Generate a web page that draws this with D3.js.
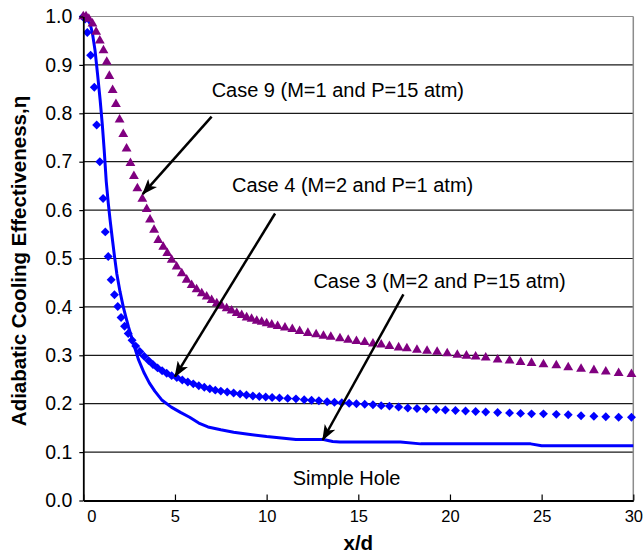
<!DOCTYPE html>
<html>
<head>
<meta charset="utf-8">
<script src="https://cdn.jsdelivr.net/npm/d3@7"></script>
<style>
  body { margin: 0; background: #fff; }
  svg { font-family: "Liberation Sans", Arial, sans-serif; }
</style>
</head>
<body>
<svg id="chart" width="643" height="556"></svg>
<script>
// Case 9 (M=1, P=15 atm) - purple triangles
var case9 = [
  [0, 1.0], [0.15, 1.0], [0.3, 0.995], [0.5, 0.985], [0.7, 0.968], [0.9, 0.95],
  [1.1, 0.93], [1.28, 0.906], [1.42, 0.877], [1.6, 0.848], [1.78, 0.819],
  [1.98, 0.787], [2.18, 0.757], [2.36, 0.727], [2.57, 0.697], [2.76, 0.67],
  [2.95, 0.645], [3.22, 0.623], [3.46, 0.602], [3.64, 0.58], [3.86, 0.559],
  [4.09, 0.538], [4.36, 0.524], [4.58, 0.511], [4.82, 0.497], [5.09, 0.483],
  [5.37, 0.469], [5.64, 0.456], [5.91, 0.445], [6.18, 0.436], [6.46, 0.428],
  [6.73, 0.421], [7.0, 0.414], [7.28, 0.407], [7.55, 0.402], [7.82, 0.397],
  [8.09, 0.392], [8.37, 0.387], [8.64, 0.383], [8.91, 0.378], [9.18, 0.375],
  [9.46, 0.371], [9.73, 0.369], [10.0, 0.366], [10.28, 0.363], [10.6, 0.36],
  [11.0, 0.357], [11.4, 0.354], [11.8, 0.35], [12.25, 0.346], [12.7, 0.343],
  [13.1, 0.34], [13.5, 0.338], [14.0, 0.335], [14.45, 0.332], [14.9, 0.329],
  [15.35, 0.327], [15.8, 0.324], [16.25, 0.322], [16.7, 0.319], [17.2, 0.316],
  [17.65, 0.314], [18.2, 0.311], [18.75, 0.309], [19.3, 0.307], [19.85, 0.304],
  [20.4, 0.301], [20.9, 0.299], [21.4, 0.297], [21.95, 0.295], [22.6, 0.291],
  [23.25, 0.289], [23.85, 0.286], [24.45, 0.284], [25.1, 0.281], [25.8, 0.279],
  [26.45, 0.275], [27.15, 0.272], [27.85, 0.269], [28.5, 0.266], [29.2, 0.263],
  [29.9, 0.261]
];

// Case 4 (M=2, P=1 atm) - blue diamonds
var case4 = [
  [0, 1.0], [0.1, 0.995], [0.22, 0.967], [0.4, 0.92], [0.6, 0.854], [0.73, 0.776],
  [0.9, 0.7], [1.08, 0.624], [1.2, 0.555], [1.36, 0.504], [1.52, 0.456],
  [1.7, 0.425], [1.88, 0.401], [2.06, 0.378], [2.25, 0.36], [2.45, 0.345],
  [2.66, 0.331], [2.86, 0.319], [3.08, 0.308], [3.32, 0.298], [3.56, 0.289],
  [3.8, 0.281], [4.05, 0.274], [4.3, 0.268], [4.55, 0.263], [4.82, 0.258],
  [5.1, 0.254], [5.4, 0.249], [5.7, 0.245], [6.0, 0.241], [6.3, 0.237],
  [6.6, 0.234], [6.9, 0.231], [7.2, 0.228], [7.5, 0.226], [7.85, 0.224],
  [8.2, 0.222], [8.55, 0.22], [8.9, 0.218], [9.25, 0.216], [9.6, 0.215],
  [9.95, 0.214], [10.3, 0.213], [10.7, 0.212], [11.15, 0.211], [11.6, 0.21],
  [12.05, 0.208], [12.45, 0.207], [12.85, 0.206], [13.3, 0.204], [13.7, 0.203],
  [14.1, 0.202], [14.5, 0.201], [14.9, 0.2], [15.35, 0.199], [15.8, 0.198],
  [16.25, 0.196], [16.7, 0.195], [17.2, 0.193], [17.7, 0.191], [18.2, 0.19],
  [18.7, 0.189], [19.25, 0.188], [19.75, 0.187], [20.3, 0.186], [20.85, 0.185],
  [21.4, 0.184], [21.95, 0.183], [22.6, 0.182], [23.25, 0.181], [23.85, 0.18],
  [24.45, 0.179], [25.1, 0.179], [25.8, 0.178], [26.45, 0.177], [27.15, 0.175],
  [27.85, 0.174], [28.5, 0.173], [29.2, 0.172], [29.9, 0.172]
];

// Case 3 (M=2, P=15 atm) - solid blue line
var case3 = [
  [0, 1.0], [0.2, 0.995], [0.37, 0.985], [0.5, 0.965], [0.64, 0.93], [0.78, 0.88],
  [0.92, 0.827], [1.04, 0.775], [1.14, 0.724], [1.25, 0.66], [1.36, 0.615],
  [1.46, 0.58], [1.57, 0.545], [1.7, 0.505], [1.83, 0.468], [2.0, 0.432],
  [2.18, 0.4], [2.33, 0.378], [2.47, 0.358], [2.73, 0.325], [3.0, 0.292],
  [3.3, 0.265], [3.6, 0.243], [3.9, 0.226], [4.3, 0.207], [4.8, 0.193],
  [5.3, 0.182], [5.8, 0.172], [6.3, 0.16], [6.8, 0.152], [7.5, 0.146],
  [8.2, 0.141], [9.0, 0.137], [10.0, 0.132], [10.8, 0.129], [11.6, 0.126],
  [13.1, 0.126], [13.6, 0.122], [14.0, 0.121], [17.3, 0.121], [18.4, 0.117],
  [24.4, 0.117], [25.0, 0.113], [30, 0.113]
];

var xTicks = [0, 5, 10, 15, 20, 25, 30];
var yTicks = [0, 0.1, 0.2, 0.3, 0.4, 0.5, 0.6, 0.7, 0.8, 0.9, 1.0];

// annotation text, anchored in data units: [label, x, y]
var notes = [
  ['Case 9 (M=1 and P=15 atm)', 7.0, 0.834],
  ['Case 4 (M=2 and P=1 atm)', 8.11, 0.637],
  ['Case 3 (M=2 and P=15 atm)', 12.55, 0.44],
  ['Simple Hole', 11.42, 0.031]
];

// arrows: [fromX, fromY, toX, toY] in data units
var arrows = [
  [7.0, 0.793, 3.24, 0.633],
  [10.46, 0.593, 5.0, 0.256],
  [17.46, 0.426, 13.06, 0.125]
];


var svg = d3.select('#chart');

var x = d3.scaleLinear().domain([0, 30]).range([83.3, 633.3]);
var y = d3.scaleLinear().domain([0, 1]).range([500.5, 16.5]);

// horizontal gridlines
svg.append('g').selectAll('line').data(yTicks.slice(1))
  .enter().append('line')
  .attr('x1', x(0)).attr('x2', x(30))
  .attr('y1', function(d) { return y(d); })
  .attr('y2', function(d) { return y(d); })
  .attr('stroke', function(d) { return d === 1.0 ? '#8c8c8c' : '#1a1a1a'; })
  .attr('stroke-width', 1.2);

// right border of the plot
svg.append('line')
  .attr('x1', x(30)).attr('x2', x(30))
  .attr('y1', y(1)).attr('y2', y(0))
  .attr('stroke', '#8c8c8c').attr('stroke-width', 1.5);

// simple hole line
svg.append('path').datum(case3)
  .attr('fill', 'none')
  .attr('stroke', '#0000ff')
  .attr('stroke-width', 3)
  .attr('stroke-linejoin', 'round')
  .attr('d', d3.line()
    .x(function(d) { return x(d[0]); })
    .y(function(d) { return y(d[1]); }));

// diamonds
var diamond = d3.symbol().type(d3.symbolSquare).size(40);
svg.append('g').selectAll('path').data(case4)
  .enter().append('path')
  .attr('d', diamond)
  .attr('fill', '#0000ff')
  .attr('transform', function(d) {
    return 'translate(' + x(d[0]) + ',' + y(d[1]) + ') rotate(45)';
  });

// triangles
var triangle = d3.symbol().type(d3.symbolTriangle).size(42);
svg.append('g').selectAll('path').data(case9)
  .enter().append('path')
  .attr('d', triangle)
  .attr('fill', '#800080')
  .attr('transform', function(d) {
    return 'translate(' + x(d[0]) + ',' + y(d[1]) + ')';
  });

// axes
var yAxis = svg.append('g')
  .attr('transform', 'translate(' + x(0) + ',0)')
  .call(d3.axisLeft(y).tickValues(yTicks).tickFormat(d3.format('.1f'))
    .tickSize(4).tickSizeOuter(0).tickPadding(7));
yAxis.select('.domain').attr('stroke', '#000').attr('stroke-width', 1.8);
yAxis.selectAll('.tick line').attr('stroke', '#000').attr('stroke-width', 1.2);
yAxis.selectAll('text')
  .attr('font-size', '19.5px')
  .attr('font-family', '"Liberation Sans", Arial, sans-serif')
  .attr('fill', '#000');

var xAxis = svg.append('g')
  .attr('transform', 'translate(0,' + y(0) + ')')
  .call(d3.axisBottom(x).tickValues(xTicks).tickFormat(d3.format('d'))
    .tickSizeInner(-6).tickSizeOuter(0).tickPadding(10));
xAxis.select('.domain').attr('stroke', '#000').attr('stroke-width', 2);
xAxis.selectAll('.tick line').attr('stroke', '#000').attr('stroke-width', 1.2);
xAxis.selectAll('text')
  .attr('font-size', '16.5px')
  .attr('font-family', '"Liberation Sans", Arial, sans-serif')
  .attr('fill', '#000');
// Excel nudged the zero label off the corner
xAxis.selectAll('.tick text').filter(function(d) { return d === 0; })
  .attr('dx', 8);

// axis titles
svg.append('text')
  .attr('x', (x(0) + x(30)) / 2)
  .attr('y', 550)
  .attr('text-anchor', 'middle')
  .attr('font-size', '20.5px')
  .attr('font-weight', 'bold')
  .text('x/d');

svg.append('text')
  .attr('transform', 'translate(26,261) rotate(-90)')
  .attr('text-anchor', 'middle')
  .attr('font-size', '20.5px')
  .attr('font-weight', 'bold')
  .text('Adiabatic Cooling Effectiveness,η');

// arrowhead
svg.append('defs').append('marker')
  .attr('id', 'head')
  .attr('markerUnits', 'userSpaceOnUse')
  .attr('viewBox', '0 0 16 12')
  .attr('refX', 15).attr('refY', 6)
  .attr('markerWidth', 16).attr('markerHeight', 12)
  .attr('orient', 'auto')
  .append('path')
  .attr('d', 'M0,0 L16,6 L0,12 L4,6 Z')
  .attr('fill', '#000');

svg.append('g').selectAll('line').data(arrows)
  .enter().append('line')
  .attr('x1', function(d) { return x(d[0]); })
  .attr('y1', function(d) { return y(d[1]); })
  .attr('x2', function(d) { return x(d[2]); })
  .attr('y2', function(d) { return y(d[3]); })
  .attr('stroke', '#000')
  .attr('stroke-width', 2.5)
  .attr('marker-end', 'url(#head)');

svg.append('g').selectAll('text').data(notes)
  .enter().append('text')
  .attr('x', function(d) { return x(d[1]); })
  .attr('y', function(d) { return y(d[2]); })
  .attr('font-size', '20px')
  .attr('fill', '#000')
  .text(function(d) { return d[0]; });
</script>
</body>
</html>
